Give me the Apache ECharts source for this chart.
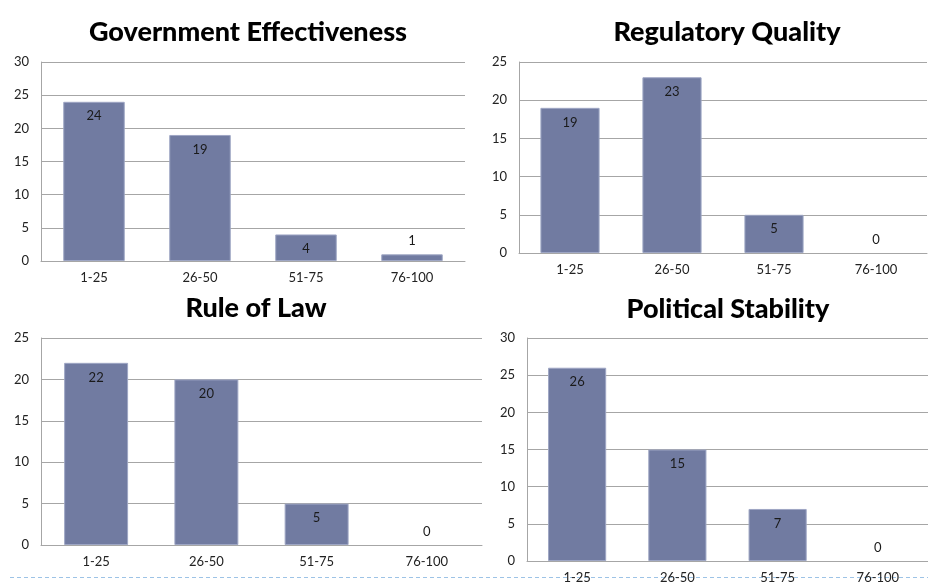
<!DOCTYPE html>
<html>
<head>
<meta charset="utf-8">
<script src="https://cdn.jsdelivr.net/npm/echarts@6/dist/echarts.min.js"></script>
<style>
  html, body { margin: 0; padding: 0; background: #ffffff; }
  #chart { width: 928px; height: 584px; }
</style>
</head>
<body>
<div id="chart"></div>
<script>
// Percentile-rank bands shared by all four panels
const categories = ['1-25', '26-50', '51-75', '76-100'];

// Number of countries per band, one array per indicator
const govEffectiveness = [24, 19, 4, 1];
const regulatoryQuality = [19, 23, 5, 0];
const ruleOfLaw = [22, 20, 5, 0];
const politicalStability = [26, 15, 7, 0];

const panelTitles = ['Government Effectiveness', 'Regulatory Quality', 'Rule of Law', 'Political Stability'];
const panelData = [govEffectiveness, regulatoryQuality, ruleOfLaw, politicalStability];
const axisMax = [30, 25, 25, 30];

// Plot areas for the 2x2 layout
const grids = [
  { left: 41, top: 62, width: 424, height: 199 },
  { left: 519, top: 62, width: 408, height: 191 },
  { left: 41, top: 338, width: 441, height: 207 },
  { left: 527, top: 338, width: 401, height: 223 }
];
const titleCenters = [
  { x: 243, y: 14 },
  { x: 722, y: 14 },
  { x: 251, y: 290 },
  { x: 723, y: 291 }
];

const FONT = 'Lato, "Open Sans", sans-serif';
const GRID_COLOR = '#a6a6a6';
const BAR_COLOR = '#717ba1';

const option = {
  backgroundColor: '#ffffff',
  animation: false,
  title: panelTitles.map((t, i) => ({
    text: t,
    left: titleCenters[i].x,
    top: titleCenters[i].y,
    textAlign: 'center',
    textStyle: { fontFamily: FONT, fontWeight: 900, fontSize: 27, color: '#000000' }
  })),
  grid: grids.map(g => Object.assign({ containLabel: false }, g)),
  xAxis: grids.map((g, i) => ({
    type: 'category',
    gridIndex: i,
    data: categories,
    axisLine: { show: true, lineStyle: { color: GRID_COLOR, width: 1 } },
    axisTick: { show: false },
    axisLabel: { fontFamily: FONT, fontSize: 13, color: '#222222', margin: 10 }
  })),
  yAxis: grids.map((g, i) => ({
    type: 'value',
    gridIndex: i,
    min: 0,
    max: axisMax[i],
    interval: 5,
    axisLine: { show: true, lineStyle: { color: GRID_COLOR, width: 1 } },
    axisTick: { show: false },
    splitLine: { show: true, lineStyle: { color: GRID_COLOR, width: 1 } },
    axisLabel: { fontFamily: FONT, fontSize: 13, color: '#222222', margin: 12 }
  })),
  series: panelData.map((vals, i) => ({
    type: 'bar',
    xAxisIndex: i,
    yAxisIndex: i,
    barWidth: '58%',
    itemStyle: { color: BAR_COLOR, borderColor: '#9ea6c4', borderWidth: 1 },
    data: vals.map(v => ({
      value: v,
      // empty bands get no outline
      itemStyle: v === 0 ? { borderWidth: 0 } : undefined,
      // short bars carry their value above, taller ones inside the top
      label: v < 3
        ? { position: 'top', distance: 7 }
        : { position: 'insideTop', distance: 8 }
    })),
    label: {
      show: true,
      fontFamily: FONT,
      fontSize: 13,
      color: '#1a1a1a'
    }
  })),
  graphic: [
    {
      type: 'line',
      shape: { x1: 10, y1: 577.5, x2: 928, y2: 577.5 },
      style: { stroke: '#9dc3e6', lineWidth: 1, lineDash: [4, 3] },
      z: -1
    }
  ]
};

const chart = echarts.init(document.getElementById('chart'), null, { renderer: 'canvas' });
chart.setOption(option);
</script>
</body>
</html>
